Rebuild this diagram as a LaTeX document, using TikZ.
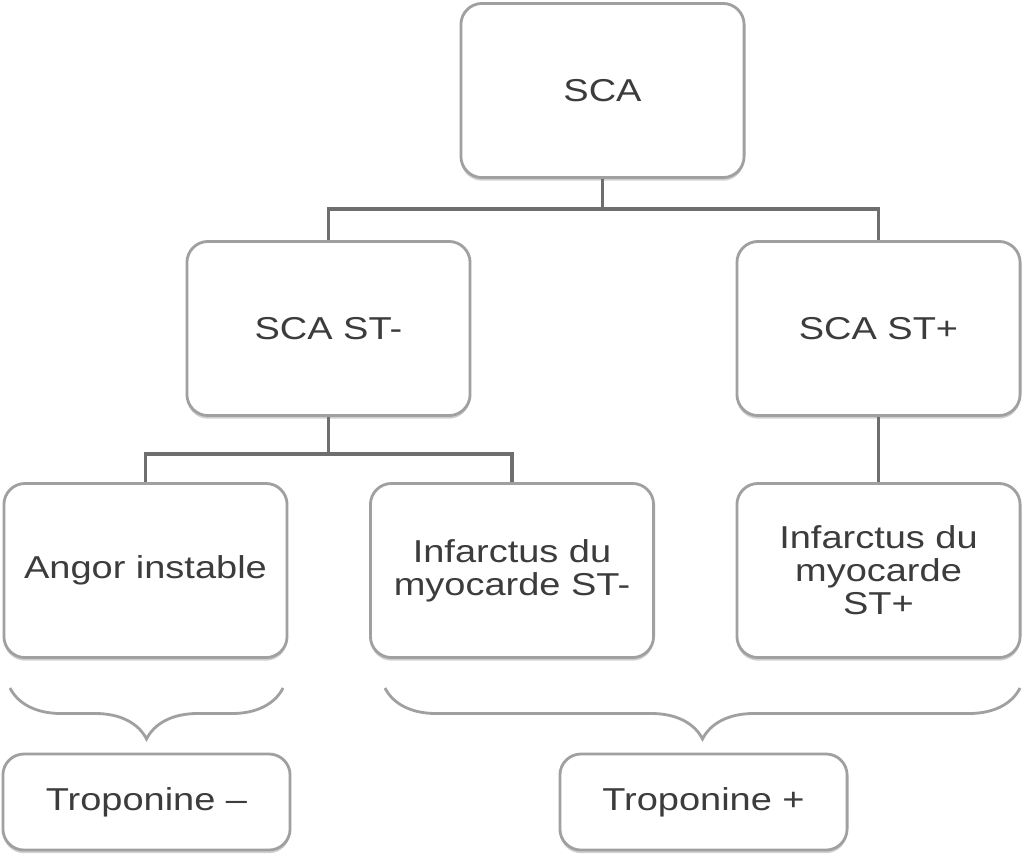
\documentclass[tikz,border=0pt]{standalone}
\usepackage{fontspec}
\setmainfont[FakeStretch=1.2]{Liberation Sans}
\usepackage{tikz}
\usetikzlibrary{positioning,calc,shadows,decorations.pathreplacing}
\definecolor{boxgray}{HTML}{A0A0A0}
\definecolor{linkgray}{HTML}{6E6E6E}
\definecolor{txtgray}{HTML}{3C3C3C}

\begin{document}
\begin{tikzpicture}[
    x=0.01cm, y=-0.01cm,
    box/.style={rectangle, draw=boxgray, line width=0.8pt, rounded corners=6pt, fill=white,
        minimum width=2.83cm, minimum height=1.74cm, align=center, text=txtgray,
        font=\fontsize{9}{9.4}\selectfont,
        drop shadow={shadow xshift=0pt, shadow yshift=-0.9pt, fill=black!30, opacity=0.6}},
    tropo/.style={box, minimum width=2.87cm, minimum height=0.96cm},
    link/.style={draw=linkgray, line width=1pt},
    accol/.style={draw=boxgray, line width=0.8pt, decorate,
        decoration={brace, mirror, amplitude=14.5pt}}
]
    \useasboundingbox (0,0) rectangle (1022,854);

    % Level 1
    \node[box] (sca) at (602.5, 90.5) {SCA};

    % Level 2
    \node[box] (stm) at (328.5, 328.5) {SCA ST-};
    \node[box] (stp) at (878.5, 328.5) {SCA ST+};

    % Level 3
    \node[box] (angor) at (145.5, 570.5) {Angor instable};
    \node[box] (infm) at (512, 570.5) {Infarctus du\\myocarde ST-};
    \node[box] (infp) at (878.5, 570.5) {Infarctus du\\myocarde\\ST+};

    % Troponine
    \node[tropo] (tneg) at (146.5, 802) {Troponine –};
    \node[tropo] (tpos) at (703.5, 802) {Troponine +};

    % Tree links
    \draw[link] (sca.south) -- ++(0,30) -| (stm.north);
    \draw[link] (sca.south) -- ++(0,30) -| (stp.north);
    \draw[link] (stm.south) -- ++(0,37) -| (angor.north);
    \draw[link] (stm.south) -- ++(0,37) -| (infm.north);
    \draw[link] (stp) -- (infp);

    % Braces
    \coordinate (b1a) at (10, 688);
    \coordinate (b1b) at (283, 688);
    \coordinate (b2a) at (385, 688);
    \coordinate (b2b) at (1020, 688);
    \draw[accol] (b1a) -- (b1b);
    \draw[accol] (b2a) -- (b2b);
\end{tikzpicture}
\end{document}
